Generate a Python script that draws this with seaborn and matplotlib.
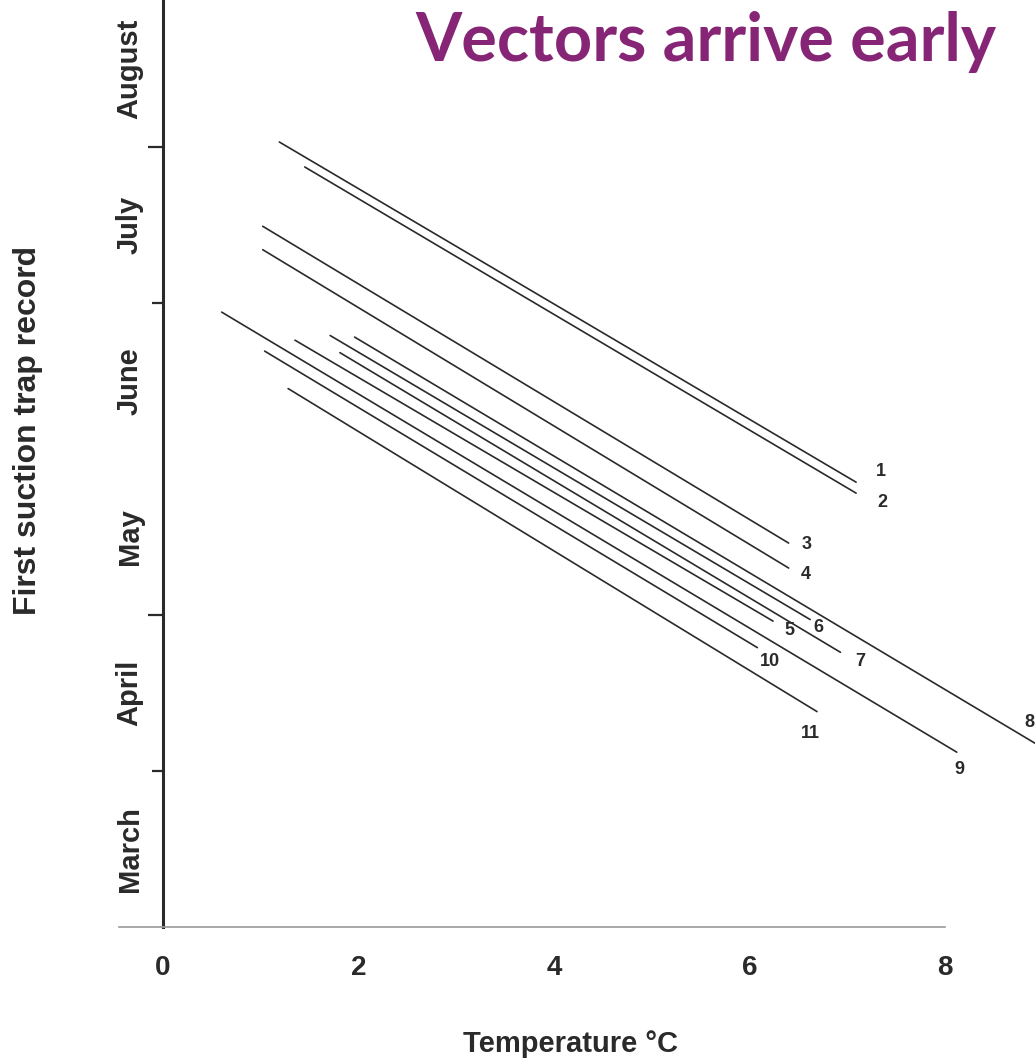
import matplotlib
matplotlib.use('Agg')
import matplotlib.pyplot as plt
import pandas as pd
import seaborn as sns

# one regression line per trap site: temperature (C) against month of first record
# month axis: 0 = 1 March, 1 = 1 April, ... 6 = 1 September
line_ids = ['1', '2', '3', '4', '5', '6', '7', '8', '9', '10', '11']
temp_start = [1.19, 1.45, 1.02, 1.02, 1.35, 1.71, 1.81, 1.96, 0.60, 1.04, 1.28]
temp_end = [7.09, 7.09, 6.40, 6.40, 6.24, 6.62, 6.93, 9.10, 8.12, 6.08, 6.69]
month_start = [5.03, 4.87, 4.49, 4.34, 3.76, 3.79, 3.68, 3.78, 3.94, 3.69, 3.45]
month_end = [2.85, 2.78, 2.46, 2.30, 1.96, 1.97, 1.76, 1.11, 1.12, 1.79, 1.38]
label_temp = [7.34, 7.36, 6.58, 6.57, 6.41, 6.70, 7.13, 8.86, 8.15, 6.21, 6.62]
label_month = [2.92, 2.72, 2.45, 2.26, 1.90, 1.92, 1.70, 1.31, 1.01, 1.70, 1.24]

months = ['March', 'April', 'May', 'June', 'July', 'August']
month_starts = [1, 2, 4, 5]
temp_ticks = [0, 2, 4, 6, 8]

narrow = ['Liberation Sans Narrow', 'Liberation Sans', 'DejaVu Sans']
ink = '#2a2a2a'

rows = []
for i, lid in enumerate(line_ids):
    rows.append({'line': lid, 'temp': temp_start[i], 'month': month_start[i]})
    rows.append({'line': lid, 'temp': temp_end[i], 'month': month_end[i]})
df = pd.DataFrame(rows)

sns.set_style('white')
plt.rcParams['font.family'] = narrow

fig = plt.figure(figsize=(10.35, 10.64), dpi=100)
ax = fig.add_axes([0.1575, 0.1288, 0.8425, 0.8712])

sns.lineplot(data=df, x='temp', y='month', units='line', estimator=None,
             sort=False, color=ink, linewidth=1.2, ax=ax, legend=False)

for i, lid in enumerate(line_ids):
    ax.text(label_temp[i], label_month[i], lid, ha='center', va='center',
            fontsize=13, fontweight='bold', color=ink, family=narrow)

ax.set_xlim(0, 8.92)
ax.set_ylim(0, 5.94)

# month boundaries as ticks, month names between them
ax.set_yticks(month_starts)
ax.set_yticklabels([])
ax.set_yticks([m + 0.5 for m in range(len(months))], months, minor=True)
ax.tick_params(axis='y', which='major', direction='out', length=11,
               width=1.6, color=ink, left=True)
ax.tick_params(axis='y', which='minor', length=0, pad=14,
               labelsize=21, labelcolor=ink, labelrotation=90)
for lab in ax.get_yticklabels(minor=True):
    lab.set_fontweight('bold')
    lab.set_va('center')
# April and July ticks are faint in the scan
for pos, tick in zip(month_starts, ax.yaxis.get_major_ticks()):
    if pos in (1, 4):
        tick.tick1line.set_color('#b0b0b0')
        tick.tick1line.set_markersize(8)

ax.set_xticks(temp_ticks)
ax.set_xticklabels([str(t) for t in temp_ticks], fontsize=20,
                   fontweight='bold', color=ink)
ax.tick_params(axis='x', length=0, pad=20)

ax.set_xlabel('Temperature °C', fontsize=21, fontweight='bold', color=ink)
ax.xaxis.set_label_coords(0.467, -0.111)
ax.set_ylabel('First suction trap record', fontsize=23, fontweight='bold',
              color=ink)
ax.yaxis.set_label_coords(-0.155, 0.536)
ax.yaxis.label.set_va('center')

for side in ['top', 'right']:
    ax.spines[side].set_visible(False)
ax.spines['left'].set_color(ink)
ax.spines['left'].set_linewidth(2.2)
ax.spines['bottom'].set_color('#9a9a9a')
ax.spines['bottom'].set_linewidth(1.2)
ax.spines['bottom'].set_bounds(-0.45, 8)

fig.text(0.963, 0.943, 'Vectors arrive early', ha='right', va='baseline',
         fontsize=48, fontweight='bold', color='#862575',
         family=['Lato', 'Open Sans', 'DejaVu Sans'])

fig.savefig('out.png', dpi=100, facecolor='white')
